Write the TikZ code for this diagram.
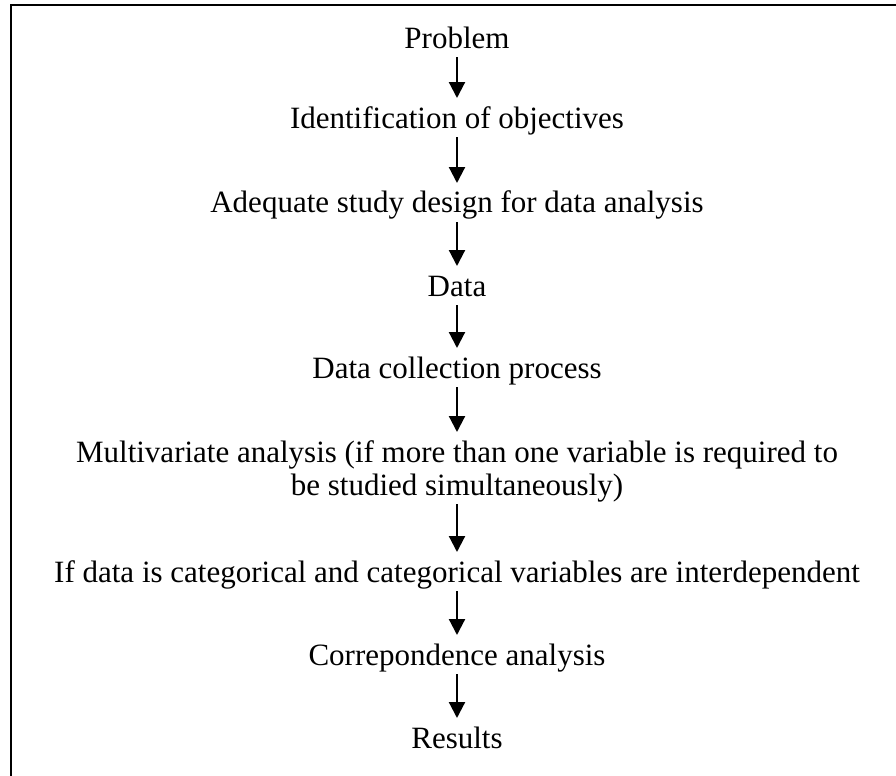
\documentclass[tikz,border=0pt]{standalone}
\usepackage{fontspec}
\setmainfont{Liberation Serif}
\usetikzlibrary{arrows.meta}

\begin{document}
\begin{tikzpicture}[x=0.5pt, y=-0.5pt,
    every node/.style={font=\fontsize{15.5}{16.5}\selectfont, anchor=base,
        text height=10.3pt, text depth=0pt, inner ysep=4.5pt},
    flow/.style={-{Triangle[length=8pt, width=8pt]}, line width=1.1pt}]
    \useasboundingbox (0, 0) rectangle (896, 776);
    \draw[line width=1.1pt] (11, 776) -- (11, 5) -- (896, 5);

    \node (prob) at (457, 48) {Problem};
    \node (obj) at (457, 128) {Identification of objectives};
    \draw[flow] (prob) -- (obj);
    \node (design) at (457, 213) {Adequate study design for data analysis};
    \draw[flow] (obj) -- (design);
    \node (data) at (457, 296) {Data};
    \draw[flow] (design) -- (data);
    \node (collect) at (457, 378) {Data collection process};
    \draw[flow] (data) -- (collect);

    \node[align=center, text height=26.8pt] (multi) at (457, 495)
        {Multivariate analysis (if more than one variable is required to\\be studied simultaneously)};
    \draw[flow] (collect) -- (multi);
    \node (categ) at (457, 582) {If data is categorical and categorical variables are interdependent};
    \draw[flow] (multi) -- (categ);
    \node (corresp) at (457, 665) {Correpondence analysis};
    \draw[flow] (categ) -- (corresp);
    \node (results) at (457, 748) {Results};
    \draw[flow] (corresp) -- (results);
\end{tikzpicture}
\end{document}
